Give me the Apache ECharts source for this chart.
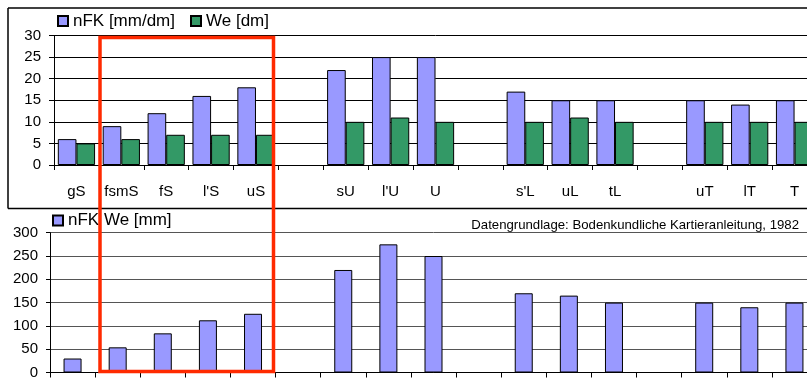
<!DOCTYPE html>
<html>
<head>
<meta charset="utf-8">
<title>nFK / We</title>
<script src="https://cdn.jsdelivr.net/npm/echarts@6/dist/echarts.min.js"></script>
<style>
  html, body { margin: 0; padding: 0; background: #fff; overflow: hidden; }
  #chart { width: 830px; height: 380px; }
</style>
</head>
<body>
<div id="chart"></div>
<script>
// Soil texture classes (blank entries separate the groups)
const categories = ['gS', 'fsmS', 'fS', "l'S", 'uS', '', 'sU', "l'U", 'U', '', "s'L", 'uL', 'tL', '', 'uT', 'lT', 'T'];

// usable field capacity per decimetre [mm/dm]
const nfkPerDm = [6, 9, 12, 16, 18, null, 22, 25, 25, null, 17, 15, 15, null, 15, 14, 15];
// effective rooting depth [dm]
const weDepth = [5, 6, 7, 7, 7, null, 10, 11, 10, null, 10, 11, 10, null, 10, 10, 10];
// usable field capacity of the effective root zone [mm]
const nfkWe = [30, 54, 84, 112, 126, null, 220, 275, 250, null, 170, 165, 150, null, 150, 140, 150];

const topTicks = [0, 5, 10, 15, 20, 25, 30];
const bottomTicks = [0, 50, 100, 150, 200, 250, 300];

const FONT = "'Liberation Sans', Arial, sans-serif";
const LAVENDER = '#9999FF';
const GREEN = '#339966';

const chart = echarts.init(document.getElementById('chart'), null, { renderer: 'canvas' });

const axisLine = { show: true, lineStyle: { color: '#000', width: 1 } };
const axisTick = { show: true, length: 5, lineStyle: { color: '#000', width: 1 } };

function legendAt(name, left, top) {
  return {
    left, top, padding: 0, itemWidth: 10, itemHeight: 10, icon: 'rect',
    data: [name],
    textStyle: { fontFamily: FONT, fontSize: 17, color: '#000', lineHeight: 20 }
  };
}

chart.setOption({
  animation: false,
  backgroundColor: '#fff',
  textStyle: { fontFamily: FONT, color: '#000' },
  grid: [
    { left: 54, right: 13, top: 35.5, height: 129.5 },
    { left: 50, right: 13, top: 232.7, height: 140 }
  ],
  legend: [
    legendAt('nFK [mm/dm]', 57, 11),
    legendAt('We [dm]', 190, 11),
    legendAt('nFK We [mm]', 52, 210.5)
  ],
  xAxis: [
    {
      type: 'category', gridIndex: 0, data: categories,
      axisLine, axisTick,
      axisLabel: { fontFamily: FONT, fontSize: 15, color: '#000', margin: 19, interval: 0 }
    },
    {
      type: 'category', gridIndex: 1, data: categories,
      axisLine, axisTick,
      axisLabel: { show: false }
    }
  ],
  yAxis: [
    {
      type: 'value', gridIndex: 0, min: topTicks[0], max: topTicks[topTicks.length - 1], interval: 5,
      axisLine, axisTick,
      axisLabel: { fontFamily: FONT, fontSize: 15, color: '#000', margin: 13 },
      splitLine: { show: true, lineStyle: { color: '#000', width: 1 } }
    },
    {
      type: 'value', gridIndex: 1, min: bottomTicks[0], max: bottomTicks[bottomTicks.length - 1], interval: 50,
      axisLine, axisTick: { show: true, length: 4, lineStyle: { color: '#000' } },
      axisLabel: { fontFamily: FONT, fontSize: 15, color: '#000', margin: 12 },
      splitLine: { show: true, lineStyle: { color: '#555', width: 1 } }
    }
  ],
  series: [
    {
      name: 'nFK [mm/dm]', type: 'bar', xAxisIndex: 0, yAxisIndex: 0,
      data: nfkPerDm, barGap: '0%', barCategoryGap: '17%',
      itemStyle: { color: LAVENDER, borderColor: '#000', borderWidth: 1 }
    },
    {
      name: 'We [dm]', type: 'bar', xAxisIndex: 0, yAxisIndex: 0,
      data: weDepth, barGap: '0%', barCategoryGap: '17%',
      itemStyle: { color: GREEN, borderColor: '#000', borderWidth: 1 }
    },
    {
      name: 'nFK We [mm]', type: 'bar', xAxisIndex: 1, yAxisIndex: 1,
      data: nfkWe, barWidth: 18,
      itemStyle: { color: LAVENDER, borderColor: '#000', borderWidth: 1 }
    }
  ],
  graphic: [
    // frame around the upper panel and divider between the panels
    { type: 'line', shape: { x1: 8, y1: 8, x2: 830, y2: 8 }, style: { stroke: '#000', lineWidth: 1.5 }, z: 10 },
    { type: 'line', shape: { x1: 8, y1: 8, x2: 8, y2: 208.5 }, style: { stroke: '#000', lineWidth: 1.5 }, z: 10 },
    { type: 'line', shape: { x1: 8, y1: 208.5, x2: 830, y2: 208.5 }, style: { stroke: '#000', lineWidth: 1.5 }, z: 10 },
    // source note
    {
      type: 'text', right: 31, top: 218.5,
      style: { text: 'Datengrundlage: Bodenkundliche Kartieranleitung, 1982', font: '13.2px ' + FONT, fill: '#000' },
      z: 10
    },
    // highlight of the sand group
    {
      type: 'rect', shape: { x: 100, y: 37.5, width: 173.5, height: 334 },
      style: { fill: 'none', stroke: '#FF2A00', lineWidth: 3.5 }, z: 20
    }
  ]
});
</script>
</body>
</html>
